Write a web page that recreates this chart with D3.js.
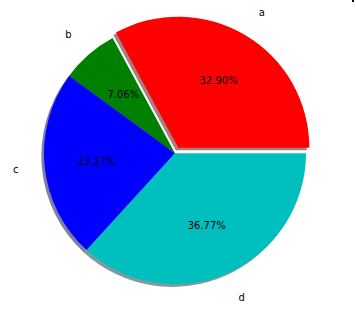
<!DOCTYPE html>
<html lang="en">
<head>
    <title>Pie</title>
    <script src="https://d3js.org/d3.v7.min.js"></script>
    <style>
        body { margin: 0; background: #fff; }
        svg { display: block; }
        text { font-family: 'DejaVu Sans', sans-serif; font-size: 10px; fill: #000; }
    </style>
</head>
<body>
<svg id="chart"></svg>
<script>
    // chart data
    const labels  = ['a', 'b', 'c', 'd'];
    const values  = [32.90, 7.06, 23.27, 36.77];
    const explode = [0.05, 0, 0, 0];
    const colors  = ['#ff0000', '#008000', '#0000ff', '#00bfbf'];

    const WIDTH = 356, HEIGHT = 309;
    const CX = 175, CY = 153.3, R = 131;
    const LABEL_DIST = 1.2, PCT_DIST = 0.6;

    const svg = d3.select('#chart')
        .attr('width', WIDTH)
        .attr('height', HEIGHT);

    // matplotlib style: start at 3 o'clock, counterclockwise
    const pie = d3.pie()
        .sort(null)
        .startAngle(Math.PI / 2)
        .endAngle(Math.PI / 2 - 2 * Math.PI);

    const arcs = pie(values).map((d, i) => {
        const mid = (d.startAngle + d.endAngle) / 2;   // d3 angle, 0 = up, clockwise
        const off = explode[i] * R;
        return Object.assign(d, {
            i: i,
            mid: mid,
            dx: off * Math.sin(mid),
            dy: -off * Math.cos(mid)
        });
    });

    const arc = d3.arc().innerRadius(0).outerRadius(R);

    const plane = svg.append('g')
        .attr('transform', `translate(${[CX, CY]})`);

    // shadows (drawn under all wedges)
    const shadowOff = 0.02 * R;
    plane.selectAll('path.shadow')
        .data(arcs)
        .join('path')
        .attr('class', 'shadow')
        .attr('d', arc)
        .attr('transform', d => `translate(${[d.dx - shadowOff, d.dy + shadowOff]})`)
        .style('fill', d => {
            const c = d3.rgb(colors[d.i]);
            return d3.rgb(c.r * 0.3, c.g * 0.3, c.b * 0.3);
        })
        .style('opacity', 0.5);

    // wedges
    plane.selectAll('path.wedge')
        .data(arcs)
        .join('path')
        .attr('class', 'wedge')
        .attr('d', arc)
        .attr('transform', d => `translate(${[d.dx, d.dy]})`)
        .style('fill', d => colors[d.i]);

    // category labels
    plane.selectAll('text.label')
        .data(arcs)
        .join('text')
        .attr('class', 'label')
        .attr('x', d => d.dx + LABEL_DIST * R * Math.sin(d.mid))
        .attr('y', d => d.dy - LABEL_DIST * R * Math.cos(d.mid))
        .attr('dy', '0.35em')
        .attr('text-anchor', d => Math.sin(d.mid) > 0 ? 'start' : 'end')
        .text(d => labels[d.i]);

    // percentages
    const total = d3.sum(values);
    plane.selectAll('text.pct')
        .data(arcs)
        .join('text')
        .attr('class', 'pct')
        .attr('x', d => d.dx + PCT_DIST * R * Math.sin(d.mid))
        .attr('y', d => d.dy - PCT_DIST * R * Math.cos(d.mid))
        .attr('dy', '0.35em')
        .attr('text-anchor', 'middle')
        .text(d => (d.data / total * 100).toFixed(2) + '%');

    // small cut-off mark in the top right corner
    svg.append('rect')
        .attr('x', WIDTH - 4).attr('y', 0)
        .attr('width', 2).attr('height', 2)
        .style('fill', '#000');
</script>
</body>
</html>
